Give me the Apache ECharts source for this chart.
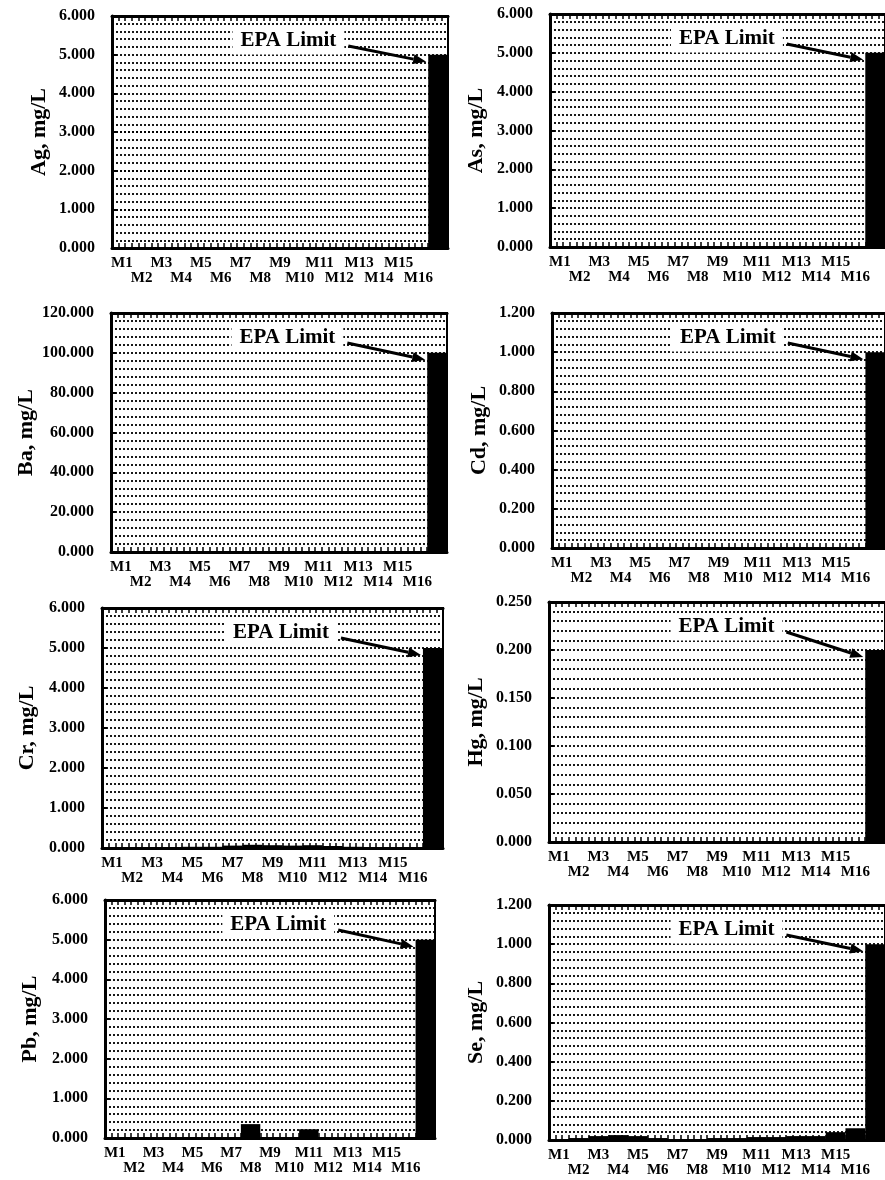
<!DOCTYPE html>
<html>
<head>
<meta charset="utf-8">
<script src="https://cdn.jsdelivr.net/npm/echarts@6/dist/echarts.min.js"></script>
<style>
  html, body { margin: 0; padding: 0; background: #fff; }
  #chart { width: 885px; height: 1180px; }
</style>
</head>
<body>
<div id="chart"></div>
<script>
// ---------------- data ----------------
const sites = ['M1','M2','M3','M4','M5','M6','M7','M8','M9','M10','M11','M12','M13','M14','M15','M16'];
const epaCategory = '';           // 17th bar = EPA limit, unlabeled
const elements = ['Ag','As','Ba','Cd','Cr','Hg','Pb','Se'];
const epaLimits = [5, 5, 100, 1, 5, 0.2, 5, 1];
const yMax      = [6, 6, 120, 1.2, 6, 0.25, 6, 1.2];
const yInterval = [1, 1, 20, 0.2, 1, 0.05, 1, 0.2];

const agValues = [0,0,0,0,0,0,0,0,0,0,0,0,0,0,0,0];
const asValues = [0,0,0,0,0,0,0,0,0,0,0,0,0,0,0,0];
const baValues = [0,0,0,0,0,0,0,0,0,0,0,0,0,0,0,0];
const cdValues = [0,0,0,0,0,0,0,0,0,0,0,0,0,0,0,0];
const crValues = [0,0,0,0.02,0.03,0.03,0.06,0.08,0.07,0.06,0.07,0.05,0.03,0.02,0.02,0.01];
const hgValues = [0,0,0,0,0,0,0,0,0,0,0,0,0,0,0,0];
const pbValues = [0,0,0,0,0,0,0,0.35,0,0,0.22,0,0,0,0,0];
const seValues = [0.005,0.01,0.02,0.025,0.02,0.01,0.005,0.005,0.01,0.01,0.015,0.015,0.02,0.02,0.04,0.06];
const panelValues = [agValues, asValues, baValues, cdValues, crValues, hgValues, pbValues, seValues];

// ---------------- layout ----------------
const gridBoxes = [
  {left:112, top:16,  width:336, height:232},
  {left:550, top:14,  width:337, height:233},
  {left:111, top:313, width:336, height:239},
  {left:552, top:313, width:335, height:235},
  {left:102, top:608, width:341, height:240},
  {left:549, top:602, width:338, height:240},
  {left:105, top:900, width:330, height:238},
  {left:549, top:905, width:338, height:235}
];
const nameGaps = [62, 63, 74, 62, 64, 62, 64, 62];

const FONT = '"Liberation Serif", "Times New Roman", serif';
const categories = sites.concat([epaCategory]);

const grid = [], xAxis = [], yAxis = [], series = [];
elements.forEach((el, i) => {
  const g = gridBoxes[i];
  grid.push({left:g.left, top:g.top, width:g.width, height:g.height,
             show:true, borderColor:'#000', borderWidth:2, containLabel:false});
  // category axis (labels)
  xAxis.push({
    type:'category', gridIndex:i, data:categories, position:'bottom',
    axisLine:{show:true, lineStyle:{color:'#000', width:3}},
    axisTick:{show:false},
    axisLabel:{interval:0, color:'#000', fontFamily:FONT, fontWeight:'bold', fontSize:15,
               margin:8, lineHeight:15,
               formatter:(v, idx) => (idx % 2 ? '\n' + v : v)},
    splitLine:{show:false}
  });
  // top frame ticks
  xAxis.push({
    type:'value', gridIndex:i, position:'top', min:0, max:51, interval:1,
    axisLine:{show:true, onZero:false, lineStyle:{color:'#000', width:3}},
    axisTick:{show:true, inside:true, length:5, lineStyle:{color:'#000', width:1.5}},
    axisLabel:{show:false}, splitLine:{show:false}
  });
  // bottom frame ticks
  xAxis.push({
    type:'value', gridIndex:i, position:'bottom', min:0, max:51, interval:1,
    axisLine:{show:false, onZero:false},
    axisTick:{show:true, inside:true, length:5, lineStyle:{color:'#000', width:1.5}},
    axisLabel:{show:false}, splitLine:{show:false}
  });
  yAxis.push({
    type:'value', gridIndex:i, min:0, max:yMax[i], interval:yInterval[i],
    name: el + ', mg/L', nameLocation:'middle', nameGap:nameGaps[i],
    nameTextStyle:{color:'#000', fontFamily:FONT, fontWeight:'bold', fontSize:22},
    axisLine:{show:true, lineStyle:{color:'#000', width:3}},
    axisTick:{show:true, inside:true, length:5, lineStyle:{color:'#000', width:2}},
    axisLabel:{color:'#000', fontFamily:FONT, fontWeight:'bold', fontSize:16, margin:17,
               formatter:v => v.toFixed(3)},
    splitLine:{show:true, lineStyle:{color:'#000', width:1.8, type:[2,2]}},
    minorTick:{show:false, splitNumber:5},
    minorSplitLine:{show:true, lineStyle:{color:'#000', width:1.8, type:[2,2]}}
  });
  series.push({
    type:'bar', xAxisIndex:i*3, yAxisIndex:i,
    data: panelValues[i].concat([epaLimits[i]]),
    barCategoryGap:'0%',
    itemStyle:{color:'#000'},
    silent:true, animation:false
  });
});

const chart = echarts.init(document.getElementById('chart'), null, {renderer:'canvas'});
chart.setOption({animation:false, backgroundColor:'#fff', grid, xAxis, yAxis, series});

// ---------------- "EPA Limit" annotations ----------------
const ctx = document.createElement('canvas').getContext('2d');
ctx.font = 'bold 21px ' + FONT;
const textW = ctx.measureText('EPA Limit').width;
const graphics = [];
elements.forEach((el, i) => {
  const g = gridBoxes[i];
  const p16 = chart.convertToPixel({gridIndex:i}, [16, epaLimits[i]]);
  const p15 = chart.convertToPixel({gridIndex:i}, [15, epaLimits[i]]);
  const catW = p16[0] - p15[0];
  const cx = g.left + 0.525 * g.width;
  const cy = g.top + 25;
  graphics.push({
    type:'text', x:cx, y:cy, z:100,
    style:{text:'EPA Limit', x:0, y:0, fill:'#000', font:'bold 21px ' + FONT,
           textAlign:'center', textVerticalAlign:'middle',
           backgroundColor:'#fff', padding:[3,8]}
  });
  const x1 = cx + textW/2 + 12, y1 = cy + 5;
  const x2 = p16[0] - catW/2 - 2, y2 = p16[1] + 7;
  const ang = Math.atan2(y2 - y1, x2 - x1);
  const L = 13, W = 5;
  const bx = x2 - L*Math.cos(ang), by = y2 - L*Math.sin(ang);
  graphics.push({type:'line', z:100,
    shape:{x1:x1, y1:y1, x2:bx, y2:by},
    style:{stroke:'#000', lineWidth:3}});
  graphics.push({type:'polygon', z:100,
    shape:{points:[[x2,y2],[bx - W*Math.sin(ang), by + W*Math.cos(ang)],[bx + W*Math.sin(ang), by - W*Math.cos(ang)]]},
    style:{fill:'#000'}});
});
chart.setOption({graphic: graphics});
</script>
</body>
</html>
